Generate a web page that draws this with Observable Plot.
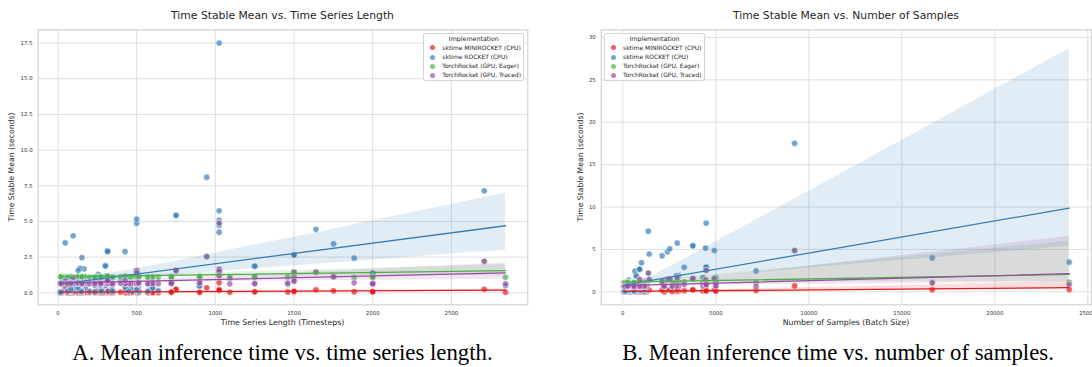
<!DOCTYPE html>
<html><head><meta charset="utf-8">
<script src="https://cdn.jsdelivr.net/npm/d3@7"></script>
<script src="https://cdn.jsdelivr.net/npm/@observablehq/plot@0.6"></script>
<style>
body{margin:0;background:#fff;}
#fig{position:relative;width:1092px;height:367px;overflow:hidden;font-family:"DejaVu Sans",sans-serif;background:#fff;}
.abs{position:absolute;white-space:nowrap;}
.ptitle{font-size:10.8px;line-height:11px;color:#262626;transform:translateX(-50%);top:10px;}
.xlab{font-size:7.8px;line-height:8px;color:#262626;transform:translate(-50%,-50%);top:322.5px;}
.ylab{font-size:7.7px;line-height:8px;color:#262626;transform:translate(-50%,-50%) rotate(-90deg);top:166.8px;}
.caption{font-family:"Liberation Serif","Times New Roman",serif;font-size:22.8px;line-height:23px;color:#000;transform:translateX(-50%);top:340.5px;}
.legend{position:absolute;background:rgba(255,255,255,0.85);border:1px solid #d4d4d4;border-radius:2px;box-sizing:border-box;}
.legend .lt{position:absolute;left:0;right:0;text-align:center;font-size:6.3px;line-height:6px;color:#262626;}
.legend .li{position:absolute;font-size:6px;line-height:6px;color:#262626;white-space:nowrap;}
.legend .mk{position:absolute;width:5px;height:5px;border-radius:50%;opacity:0.7;}
svg{position:absolute;top:0;}
</style>
</head><body>
<div id="fig"></div>
<script>
// UCR datasets: series length, number of samples, and stable mean time (s) per implementation
const names = ["ACSF1","Adiac","ArrowHead","Beef","BeetleFly","BirdChicken","BME","Car","CBF","Chinatown","ChlorineConcentration","CinCECGTorso","Coffee","Computers","CricketX","CricketY","CricketZ","Crop","DiatomSizeReduction","DistalPhalanxOutlineAgeGroup","DistalPhalanxOutlineCorrect","DistalPhalanxTW","Earthquakes","ECG200","ECG5000","ECGFiveDays","ElectricDevices","EOGHorizontalSignal","EOGVerticalSignal","EthanolLevel","FaceAll","FaceFour","FacesUCR","FiftyWords","Fish","FordA","FordB","FreezerRegularTrain","FreezerSmallTrain","Fungi","GunPoint","GunPointAgeSpan","GunPointMaleVersusFemale","GunPointOldVersusYoung","Ham","HandOutlines","Haptics","Herring","HouseTwenty","InlineSkate","InsectEPGRegularTrain","InsectEPGSmallTrain","InsectWingbeatSound","ItalyPowerDemand","LargeKitchenAppliances","Lightning2","Lightning7","Mallat","Meat","MedicalImages","MiddlePhalanxOutlineAgeGroup","MiddlePhalanxOutlineCorrect","MiddlePhalanxTW","MixedShapesRegularTrain","MixedShapesSmallTrain","MoteStrain","NonInvasiveFetalECGThorax1","NonInvasiveFetalECGThorax2","OliveOil","OSULeaf","PhalangesOutlinesCorrect","Phoneme","PigAirwayPressure","PigArtPressure","PigCVP","Plane","PowerCons","ProximalPhalanxOutlineAgeGroup","ProximalPhalanxOutlineCorrect","ProximalPhalanxTW","RefrigerationDevices","Rock","ScreenType","SemgHandGenderCh2","SemgHandMovementCh2","SemgHandSubjectCh2","ShapeletSim","ShapesAll","SmallKitchenAppliances","SmoothSubspace","SonyAIBORobotSurface1","SonyAIBORobotSurface2","StarLightCurves","Strawberry","SwedishLeaf","Symbols","SyntheticControl","ToeSegmentation1","ToeSegmentation2","Trace","TwoLeadECG","TwoPatterns","UMD","UWaveGestureLibraryAll","UWaveGestureLibraryX","UWaveGestureLibraryY","UWaveGestureLibraryZ","Wafer","Wine","WordSynonyms","Worms","WormsTwoClass","Yoga"];
const seriesLength = [1460,176,251,470,512,512,128,577,128,24,166,1639,286,720,300,300,300,46,345,80,80,80,512,96,140,136,96,1250,1250,1751,131,350,131,270,463,500,500,301,301,201,150,150,150,150,431,2709,1092,512,2000,1882,601,601,256,24,720,637,319,1024,448,99,80,80,80,1024,1024,84,750,750,570,427,80,1024,2000,2000,2000,144,144,80,80,80,720,2844,720,1500,1500,1500,500,512,720,15,70,65,1024,235,128,398,60,277,343,275,82,128,150,945,315,315,315,152,234,270,900,900,426];
const numSamples = [200,781,211,60,40,40,180,120,930,363,4307,1420,56,500,780,780,780,24000,322,539,876,539,461,200,5000,884,16637,724,724,1004,2250,112,2250,905,350,4921,4446,3000,2878,204,200,451,451,451,214,1370,463,128,159,650,311,266,2200,1096,750,121,143,2400,120,1141,554,891,553,2925,2525,1272,3765,3765,60,442,2658,2110,312,312,312,210,360,605,891,605,750,70,750,900,900,900,200,1200,750,300,621,980,9236,983,1125,1020,600,268,166,200,1162,5000,180,4478,4478,4478,4478,7164,111,905,258,258,3300];
const minirocket = [0.06,0.03,0.02,0.02,0.02,0.02,0.02,0.03,0.03,0.02,0.09,0.21,0.02,0.05,0.04,0.04,0.04,0.27,0.03,0.02,0.03,0.02,0.04,0.02,0.10,0.03,0.24,0.07,0.07,0.14,0.05,0.02,0.05,0.04,0.03,0.22,0.20,0.09,0.08,0.02,0.02,0.02,0.02,0.02,0.02,0.25,0.04,0.02,0.06,0.07,0.03,0.03,0.06,0.02,0.05,0.02,0.02,0.21,0.02,0.03,0.02,0.03,0.02,0.24,0.21,0.03,0.23,0.24,0.02,0.03,0.05,0.19,0.07,0.07,0.07,0.02,0.02,0.02,0.03,0.02,0.05,0.04,0.05,0.11,0.07,0.11,0.02,0.06,0.05,0.02,0.02,0.02,0.70,0.04,0.03,0.05,0.02,0.02,0.02,0.02,0.03,0.09,0.02,0.35,0.12,0.12,0.12,0.15,0.02,0.04,0.04,0.04,0.13];
const rocket = [0.60,0.31,0.12,0.07,0.05,0.05,0.06,0.15,0.29,0.04,1.68,4.45,0.04,0.73,0.50,0.50,0.51,3.50,0.24,0.11,0.18,0.11,0.49,0.06,1.72,0.29,4.00,1.86,1.87,3.43,0.70,0.09,0.71,0.53,0.34,4.87,5.16,1.92,1.88,0.10,0.07,0.16,0.16,0.16,0.20,7.15,1.02,0.15,0.64,2.43,0.39,0.33,1.30,0.07,1.10,0.16,0.10,4.72,0.12,0.28,0.11,0.18,0.11,5.75,5.07,0.28,5.45,5.42,0.08,0.40,0.56,4.25,1.37,1.37,1.36,0.08,0.13,0.13,0.19,0.13,1.10,0.50,1.11,2.66,2.66,2.65,0.21,1.27,1.10,0.03,0.12,0.18,17.50,0.51,0.34,0.85,0.10,0.16,0.13,0.12,0.26,1.56,0.07,8.10,2.92,2.93,2.90,2.47,0.06,0.53,0.49,0.48,2.89];
const eager = [1.10,1.12,1.09,1.10,1.11,1.08,1.12,1.09,1.13,1.13,1.15,1.45,1.10,1.10,1.11,1.10,1.12,1.13,1.09,1.11,1.12,1.10,1.10,1.11,1.15,1.10,1.08,1.12,1.11,1.15,1.13,1.09,1.12,1.11,1.10,1.56,1.40,1.14,1.13,1.10,1.11,1.09,1.12,1.10,1.11,2.21,1.09,1.10,1.09,1.07,1.12,1.10,1.12,1.14,1.11,1.10,1.09,1.49,1.11,1.12,1.10,1.11,1.12,1.65,1.50,1.13,1.56,1.55,1.10,1.11,1.14,1.21,1.10,1.09,1.10,1.12,1.10,1.11,1.12,1.10,1.12,1.09,1.10,1.14,1.45,1.13,1.10,1.13,1.11,1.12,1.10,1.11,4.87,1.12,1.11,1.12,1.10,1.09,1.10,1.11,1.12,1.15,1.10,2.54,1.16,1.15,1.16,1.13,1.10,1.11,1.14,1.13,1.17];
const traced = [0.68,0.64,0.62,0.66,0.63,0.64,0.65,0.63,0.66,0.67,0.69,1.45,0.62,0.66,0.64,0.65,0.63,0.83,0.64,0.66,0.65,0.64,0.65,0.62,0.70,0.66,1.06,0.64,0.65,1.12,0.64,0.63,0.65,0.66,0.64,1.56,1.40,0.68,0.67,0.63,0.64,0.65,0.63,0.66,0.64,2.21,0.63,0.65,0.63,0.70,0.66,0.64,0.68,0.66,0.68,0.64,0.65,1.49,0.64,0.66,0.65,0.64,0.66,1.65,1.50,0.65,1.56,1.57,0.63,0.65,0.67,1.21,0.64,0.63,0.64,0.64,0.65,0.66,0.64,0.65,0.67,0.63,0.66,0.81,1.45,0.82,0.64,0.70,0.67,0.66,0.64,0.65,4.87,0.66,0.65,0.67,0.64,0.63,0.64,0.65,0.66,0.69,0.63,2.54,0.85,0.86,0.84,0.66,0.64,0.65,0.70,0.69,0.86];

const implementations = ["sktime MINIROCKET (CPU)","sktime ROCKET (CPU)","TorchRocket (GPU, Eager)","TorchRocket (GPU, Traced)"];
const colors = ["#e41a1c","#377eb8","#4daf4a","#984ea3"];
const xTicksA = [0,500,1000,1500,2000,2500];
const yTicksA = [0,2.5,5,7.5,10,12.5,15,17.5];
const xTicksB = [0,5000,10000,15000,20000,25000];
const yTicksB = [0,5,10,15,20,25,30];

function makeRows(xs){
  const times=[minirocket,rocket,eager,traced];
  const out=[];
  implementations.forEach((impl,k)=>xs.forEach((x,i)=>out.push({x,y:times[k][i],impl})));
  return out;
}

// 95% confidence band of the OLS fit, estimated as seaborn does: percentile
// bootstrap over the observations (fixed seed so the picture is reproducible).
function ciBands(rows, nBoot=1000, nGrid=100){
  const out=[];
  implementations.forEach((impl,k)=>{
    const pts=rows.filter(r=>r.impl===impl);
    const n=pts.length;
    const [x0,x1]=d3.extent(pts,d=>d.x);
    const grid=d3.range(nGrid).map(j=>x0+(x1-x0)*j/(nGrid-1));
    const rng=d3.randomLcg(0.137+k*0.1);
    const est=grid.map(()=>[]);
    for(let b=0;b<nBoot;b++){
      let sx=0,sy=0;const idx=new Array(n);
      for(let i=0;i<n;i++){idx[i]=Math.floor(rng()*n);sx+=pts[idx[i]].x;sy+=pts[idx[i]].y;}
      const mx=sx/n,my=sy/n;let sxx=0,sxy=0;
      for(let i=0;i<n;i++){const p=pts[idx[i]];sxx+=(p.x-mx)**2;sxy+=(p.x-mx)*(p.y-my);}
      if(sxx===0)continue;
      const s=sxy/sxx;
      grid.forEach((x,j)=>est[j].push(my+s*(x-mx)));
    }
    grid.forEach((x,j)=>{
      const v=est[j].sort(d3.ascending);
      out.push({x,y1:d3.quantileSorted(v,0.025),y2:d3.quantileSorted(v,0.975),impl});
    });
  });
  return out;
}

function panel(o){
  return Plot.plot({
    width:o.width,height:330,
    marginLeft:o.ml,marginRight:o.mr,marginTop:29.3,marginBottom:25.7,
    style:{fontFamily:"'DejaVu Sans', sans-serif",fontSize:"5.4px",color:"#333",background:"transparent",overflow:"visible"},
    x:{domain:o.xDomain,ticks:o.xTicks,tickSize:0,tickPadding:6,label:null,tickFormat:d3.format("d")},
    y:{domain:o.yDomain,ticks:o.yTicks,tickSize:0,tickPadding:5.5,label:null,tickFormat:o.yFmt},
    color:{domain:implementations,range:colors},
    marks:[
      Plot.ruleX(o.xTicks,{stroke:"#dedede",strokeWidth:1}),
      Plot.ruleY(o.yTicks,{stroke:"#dedede",strokeWidth:1}),
      Plot.frame({stroke:"#d2d2d2",strokeWidth:1.2}),
      Plot.dot(o.data,{x:"x",y:"y",fill:"impl",r:3.1,fillOpacity:0.7,stroke:"white",strokeWidth:0.5,clip:true}),
      Plot.areaY(ciBands(o.data),{x:"x",y1:"y1",y2:"y2",fill:"impl",fillOpacity:0.15,clip:true}),
      Plot.linearRegressionY(o.data,{x:"x",y:"y",stroke:"impl",ci:0,strokeWidth:1.3,clip:true})
    ]
  });
}

const fig=document.getElementById("fig");
const svgA=panel({width:546,ml:37.6,mr:18.7,xDomain:[-126.5,2985.5],yDomain:[-0.84,18.43],xTicks:xTicksA,yTicks:yTicksA,yFmt:d3.format(".1f"),data:makeRows(seriesLength)});
svgA.style.left="0px";
fig.appendChild(svgA);
const svgB=panel({width:560,ml:54.8,mr:15,xDomain:[-1158,25198],yDomain:[-1.53,30.9],xTicks:xTicksB,yTicks:yTicksB,yFmt:d3.format("d"),data:makeRows(numSamples)});
svgB.style.left="546px";
fig.appendChild(svgB);

function addText(cls,text,left){
  const d=document.createElement("div");
  d.className="abs "+cls;d.textContent=text;d.style.left=left+"px";
  fig.appendChild(d);
}
addText("ptitle","Time Stable Mean vs. Time Series Length",282.5);
addText("ptitle","Time Stable Mean vs. Number of Samples",846);
addText("xlab","Time Series Length (Timesteps)",282.5);
addText("xlab","Number of Samples (Batch Size)",846);
addText("ylab","Time Stable Mean (seconds)",12.2);
addText("ylab","Time Stable Mean (seconds)",580.8);
addText("caption","A. Mean inference time vs. time series length.",282.5);
addText("caption","B. Mean inference time vs. number of samples.",838);

function legend(left,top){
  const box=document.createElement("div");
  box.className="legend";
  box.style.left=left+"px";box.style.top=top+"px";box.style.width="101px";box.style.height="48px";
  const t=document.createElement("div");t.className="lt";t.textContent="Implementation";t.style.top="2px";box.appendChild(t);
  const ys=[14.7,24,33,42];
  implementations.forEach((impl,k)=>{
    const m=document.createElement("div");m.className="mk";m.style.background=colors[k];
    m.style.left=(9-2.5-1)+"px";m.style.top=(ys[k]-2.5-1)+"px";box.appendChild(m);
    const l=document.createElement("div");l.className="li";l.textContent=impl;
    l.style.left=(19-1)+"px";l.style.top=(ys[k]-3-1)+"px";box.appendChild(l);
  });
  fig.appendChild(box);
}
legend(423.3,33.3);
legend(604,33.3);
</script>
</body></html>
